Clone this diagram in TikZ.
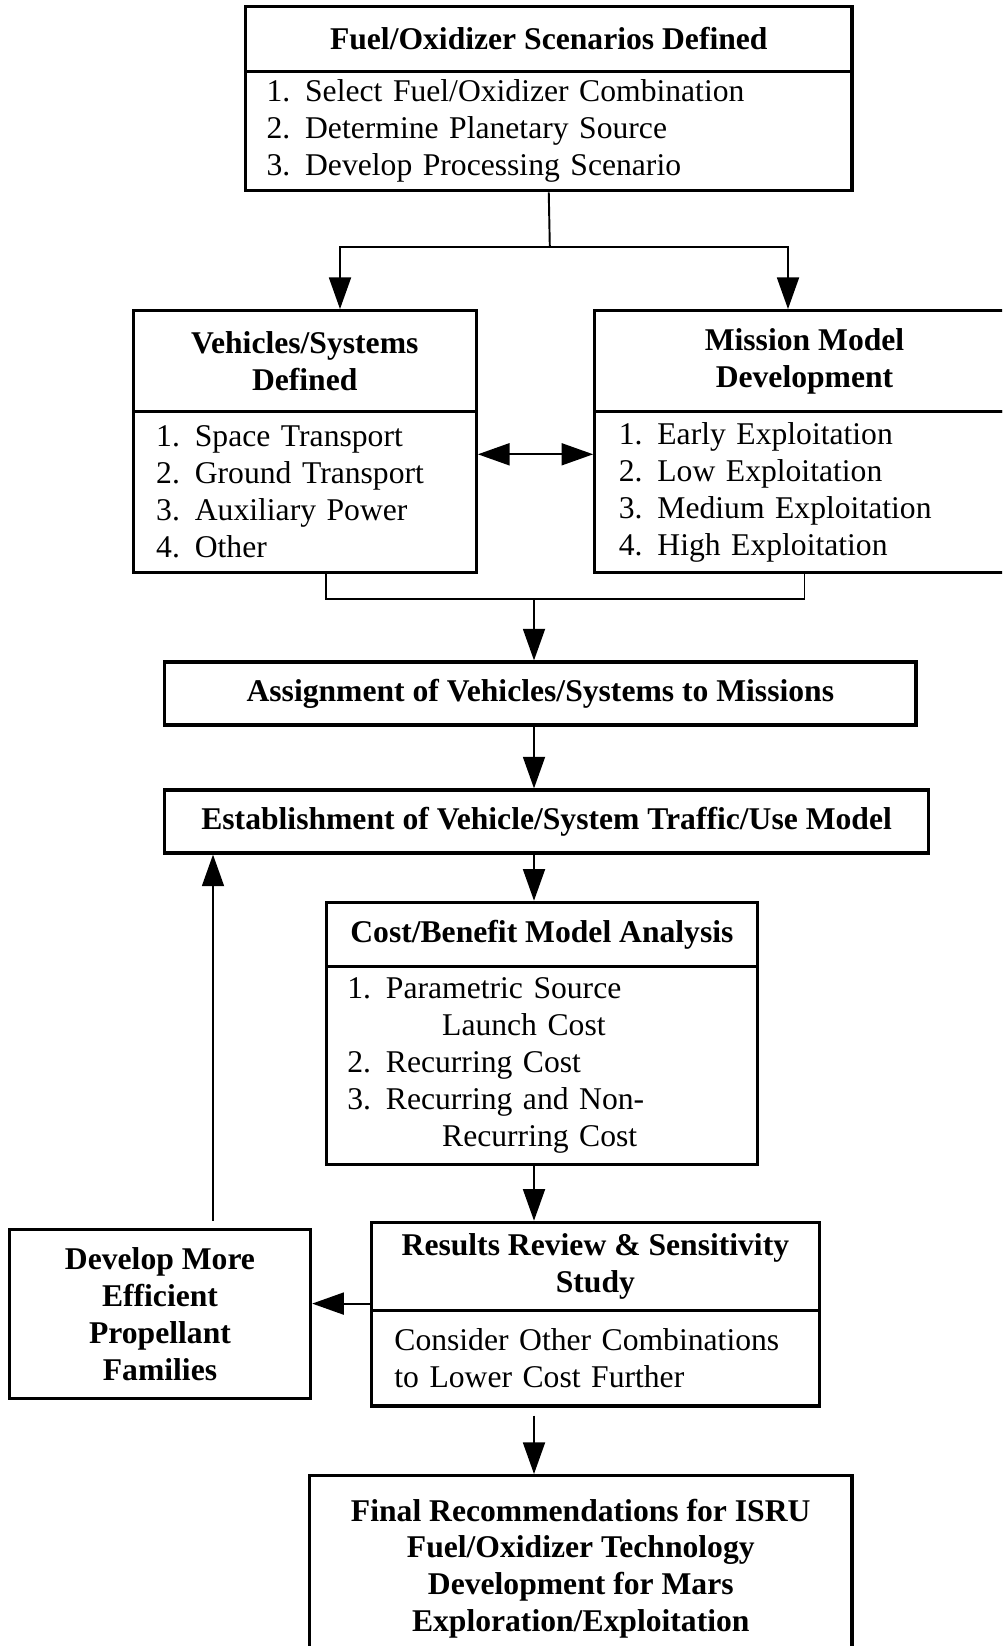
\documentclass[tikz,border=0pt]{standalone}
\usepackage{fontspec}
\setmainfont{Liberation Serif}
\usetikzlibrary{arrows.meta, positioning, calc}

\newcommand{\itm}[2]{\makebox[22pt][l]{#1}#2}

\begin{document}
\begin{tikzpicture}[
        >={Triangle[length=18pt, width=12.5pt]},
        line width=1.1pt,
        head/.style={draw, line width=1.8pt, align=center, inner sep=2pt,
                    font=\fontsize{18}{21}\selectfont\bfseries},
        list/.style={draw, line width=1.8pt, align=left, inner ysep=2pt,
                    font=\fontsize{18}{21}\selectfont}
    ]
        \clip (0,0) rectangle (20.04,-32.92);

        \node[head, minimum width=12.13cm, minimum height=1.30cm] (scen) at (10.975,-0.776)
            {Fuel/Oxidizer Scenarios Defined};
        \node[list, text width=11.29cm, inner xsep=0.42cm, minimum height=2.394cm] (scenlist) at (10.975,-2.62)
            {\itm{1.}{Select Fuel/Oxidizer Combination}\\ \itm{2.}{Determine Planetary Source}\\
             \itm{3.}{Develop Processing Scenario}};

        \node[head, minimum width=6.862cm, minimum height=2.014cm] (veh) at (6.095,-7.22)
            {Vehicles/Systems\\Defined};
        \node[list, text width=5.942cm, inner xsep=0.46cm, minimum height=3.232cm] (vehlist) at (6.095,-9.842)
            {\itm{1.}{Space Transport}\\ \itm{2.}{Ground Transport}\\ \itm{3.}{Auxiliary Power}\\
             \itm{4.}{Other}};

        \node[head, minimum width=8.39cm, minimum height=2.014cm] (mis) at (16.09,-7.22)
            {Mission Model\\Development};
        \node[list, text width=7.43cm, inner xsep=0.48cm, minimum height=3.232cm] (mislist) at (16.09,-9.842)
            {\itm{1.}{Early Exploitation}\\ \itm{2.}{Low Exploitation}\\ \itm{3.}{Medium Exploitation}\\
             \itm{4.}{High Exploitation}};

        \node[head, minimum width=15.026cm, minimum height=1.26cm] (assign) at (10.807,-13.87)
            {Assignment of Vehicles/Systems to Missions};
        \node[head, minimum width=15.276cm, minimum height=1.26cm] (estab) at (10.932,-16.43)
            {Establishment of Vehicle/System Traffic/Use Model};

        \node[head, minimum width=8.624cm, minimum height=1.28cm] (cost) at (10.838,-18.686)
            {Cost/Benefit Model Analysis};
        \node[list, text width=7.784cm, inner xsep=0.42cm, minimum height=3.966cm] (costlist) at (10.838,-21.309)
            {\itm{1.}{Parametric Source}\\ \hspace*{54pt}Launch Cost\\ \itm{2.}{Recurring Cost}\\
             \itm{3.}{Recurring and Non-}\\ \hspace*{54pt}Recurring Cost};

        \node[head, minimum width=8.96cm, minimum height=1.764cm] (res) at (11.908,-25.328)
            {Results Review \& Sensitivity\\Study};
        \node[list, text width=8.04cm, inner xsep=0.46cm, minimum height=1.91cm] (reslist) at (11.908,-27.165)
            {Consider Other Combinations\\to Lower Cost Further};

        \node[head, minimum width=6.024cm, minimum height=3.38cm] (devel) at (3.2,-26.282)
            {Develop More\\Efficient\\Propellant\\Families};

        \node[head, minimum width=10.85cm, minimum height=3.72cm, anchor=north] (final) at (11.615,-29.48)
            {Final Recommendations for ISRU\\Fuel/Oxidizer Technology\\Development for Mars\\Exploration/Exploitation};

        \coordinate (split) at (10.996,-4.932);
        \coordinate (join)  at (10.68,-11.98);

        \draw (scenlist.south) -- (split);
        \draw[->] (split) -| ([xshift=0.705cm]veh.north);
        \draw[->] (split) -| ([xshift=-0.33cm]mis.north);
        \draw[<->] ([yshift=0.756cm]vehlist.east) -- ([yshift=0.756cm]mislist.west);
        \draw ([xshift=0.431cm]vehlist.south) |- (join);
        \draw (mislist.south) |- (join);
        \draw[->] (join) -- (join |- assign.north);
        \draw[->] (assign.south -| join) -- (estab.north -| join);
        \draw[->] (estab.south -| join) -- (cost.north -| join);
        \draw[->] (costlist.south -| join) -- (res.north -| join);
        \draw[->] ([yshift=-0.16cm]reslist.south -| join) -- (final.north -| join);
        \draw[->] ([yshift=0.17cm]res.south west) -- ([yshift=0.17cm]res.south west -| devel.east);
        \draw[->] ([shift={(1.06cm,0.15cm)}]devel.north) -- ([xshift=1.06cm]devel.north |- estab.south);
    \end{tikzpicture}
\end{document}
